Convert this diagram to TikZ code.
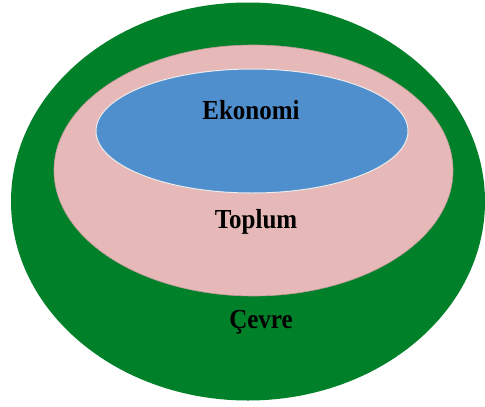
\documentclass[tikz,border=0pt]{standalone}
\usepackage{fontspec}
\setmainfont{Liberation Serif}
\definecolor{envgreen}{RGB}{0,128,40}
\definecolor{socpink}{RGB}{230,184,183}
\definecolor{ecoblue}{RGB}{79,143,206}
\begin{document}
\begin{tikzpicture}[x=1pt,y=-1pt,
  lbl/.style={font=\bfseries\fontsize{25}{29}\selectfont, text=black, inner sep=0pt, yscale=1.1}]
\useasboundingbox (0,0) rectangle (485,407);
\fill[white] (0,0) rectangle (485,407);
\fill[envgreen] (248,201.5) ellipse [x radius=237, y radius=199];
\fill[socpink, draw=socpink!85!black, line width=0.6pt] (253.5,170.5) ellipse [x radius=199.5, y radius=125.5];
\fill[ecoblue, draw=white!85!gray, line width=1pt] (252,131) ellipse [x radius=156, y radius=62];
\node[lbl] (eko) at (251,110) {Ekonomi};
\node[lbl] (top) at (256,222) {Toplum};
\node[lbl] (cev) at (261,322) {Çevre};
\end{tikzpicture}
\end{document}
